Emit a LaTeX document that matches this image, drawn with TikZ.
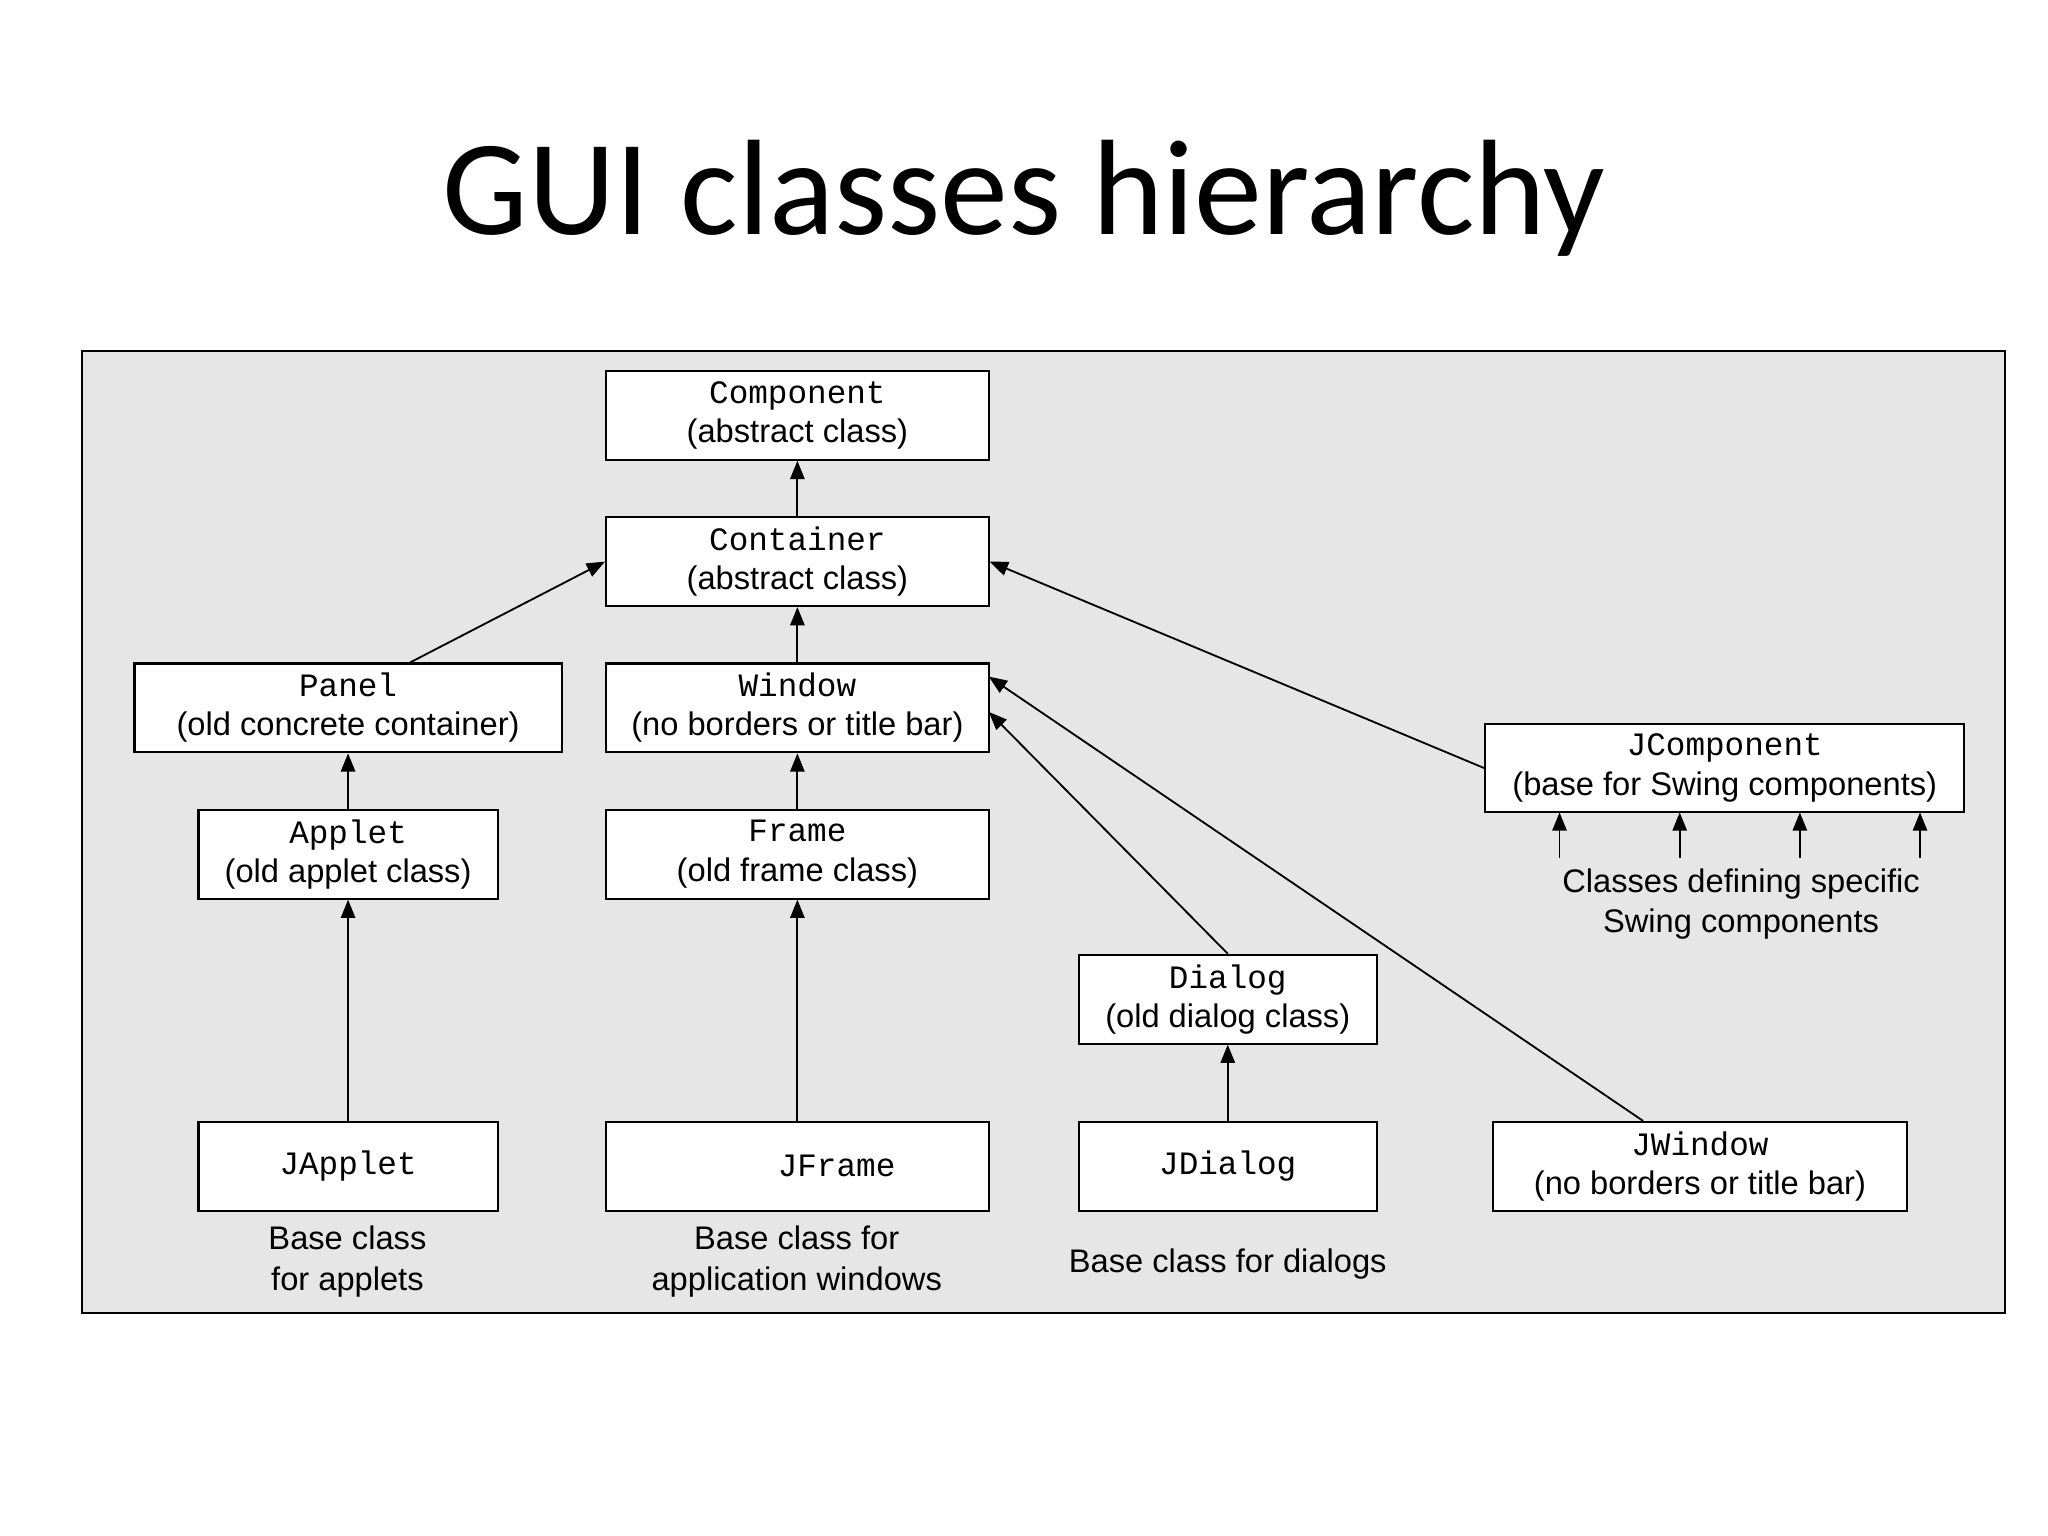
\documentclass[tikz,border=0pt]{standalone}
\usepackage{fontspec}
\setmainfont{Liberation Sans}
\newfontfamily\titlefont{Carlito}
\newfontfamily\monof{Liberation Mono}
\usetikzlibrary{arrows.meta}
\tikzset{
 box/.style={draw, fill=white, line width=0.8pt, align=center, inner sep=0pt,
   font=\fontsize{12.5}{15}\selectfont},
 arr/.style={line width=0.7pt, -{Triangle[length=7pt,width=5.5pt]}},
 lbl/.style={align=center, font=\fontsize{12.5}{15.5}\selectfont}
}
\begin{document}
\begin{tikzpicture}[x=0.5pt,y=-0.5pt]
\useasboundingbox (0,0) rectangle (1568,1176);
\fill[white] (0,0) rectangle (1568,1176);
\node[font=\titlefont\fontsize{52}{60}\selectfont] (title) at (784,152) {GUI classes hierarchy};
\draw[fill={rgb,255:red,230;green,230;blue,230}, line width=0.8pt] (63,269) rectangle (1535,1005);
\newcommand{\bx}[7]{\node[box, minimum width={(#4-#2)*0.5pt}, minimum height={(#5-#3)*0.5pt}] (#1) at ({(#2+#4)/2},{(#3+#5)/2}) {#6\\#7};}
\bx{comp}{464}{284}{757}{352}{\monof Component}{(abstract class)}
\bx{cont}{464}{396}{757}{464}{\monof Container}{(abstract class)}
\bx{panel}{103}{508}{430}{576}{\monof Panel}{(old concrete container)}
\bx{win}{464}{508}{757}{576}{\monof Window}{(no borders or title bar)}
\bx{applet}{152}{620}{381}{688}{\monof Applet}{(old applet class)}
\bx{frame}{464}{620}{757}{688}{\monof Frame}{(old frame class)}
\bx{jcomp}{1137}{554}{1504}{622}{\monof JComponent}{(base for Swing components)}
\bx{dialog}{826}{731}{1054}{799}{\monof Dialog}{(old dialog class)}
\bx{jwin}{1143}{859}{1460}{927}{\monof JWindow}{(no borders or title bar)}
\node[box, minimum width={229*0.5pt}, minimum height={68*0.5pt}] (japplet) at (266.5,893) {\monof JApplet};
\node[box, minimum width={293*0.5pt}, minimum height={68*0.5pt}] (jframe) at (610.5,893) {\monof\raisebox{-3pt}{\hspace{30pt}JFrame}};
\node[box, minimum width={228*0.5pt}, minimum height={68*0.5pt}] (jdialog) at (940,893) {\monof JDialog};
\draw[arr] (cont) -- (comp);
\draw[arr] (win) -- (cont);
\draw[arr] (frame) -- (win);
\draw[arr] (jframe) -- (frame);
\draw[arr] (applet) -- (panel);
\draw[arr] (japplet) -- (applet);
\draw[arr] (jdialog) -- (dialog);
\draw[arr] (panel.north -| 314,0) -- (cont.west);
\draw[arr] (jcomp.west) -- (cont.east);
\draw[arr] (dialog.north) -- (757,545);
\draw[arr] (jwin.north -| 1258,0) -- (757,518);
\foreach \x in {1194,1286,1378,1470} \draw[arr] (\x,657) -- (\x,622);
\node[lbl] (swing) at (1333,692) {Classes defining specific\\Swing components};
\node[lbl] (l1) at (266,966) {Base class\\for applets};
\node[lbl] (l2) at (610,966) {Base class for\\application windows};
\node[lbl] (l3) at (940,968) {Base class for dialogs};
\end{tikzpicture}
\end{document}
